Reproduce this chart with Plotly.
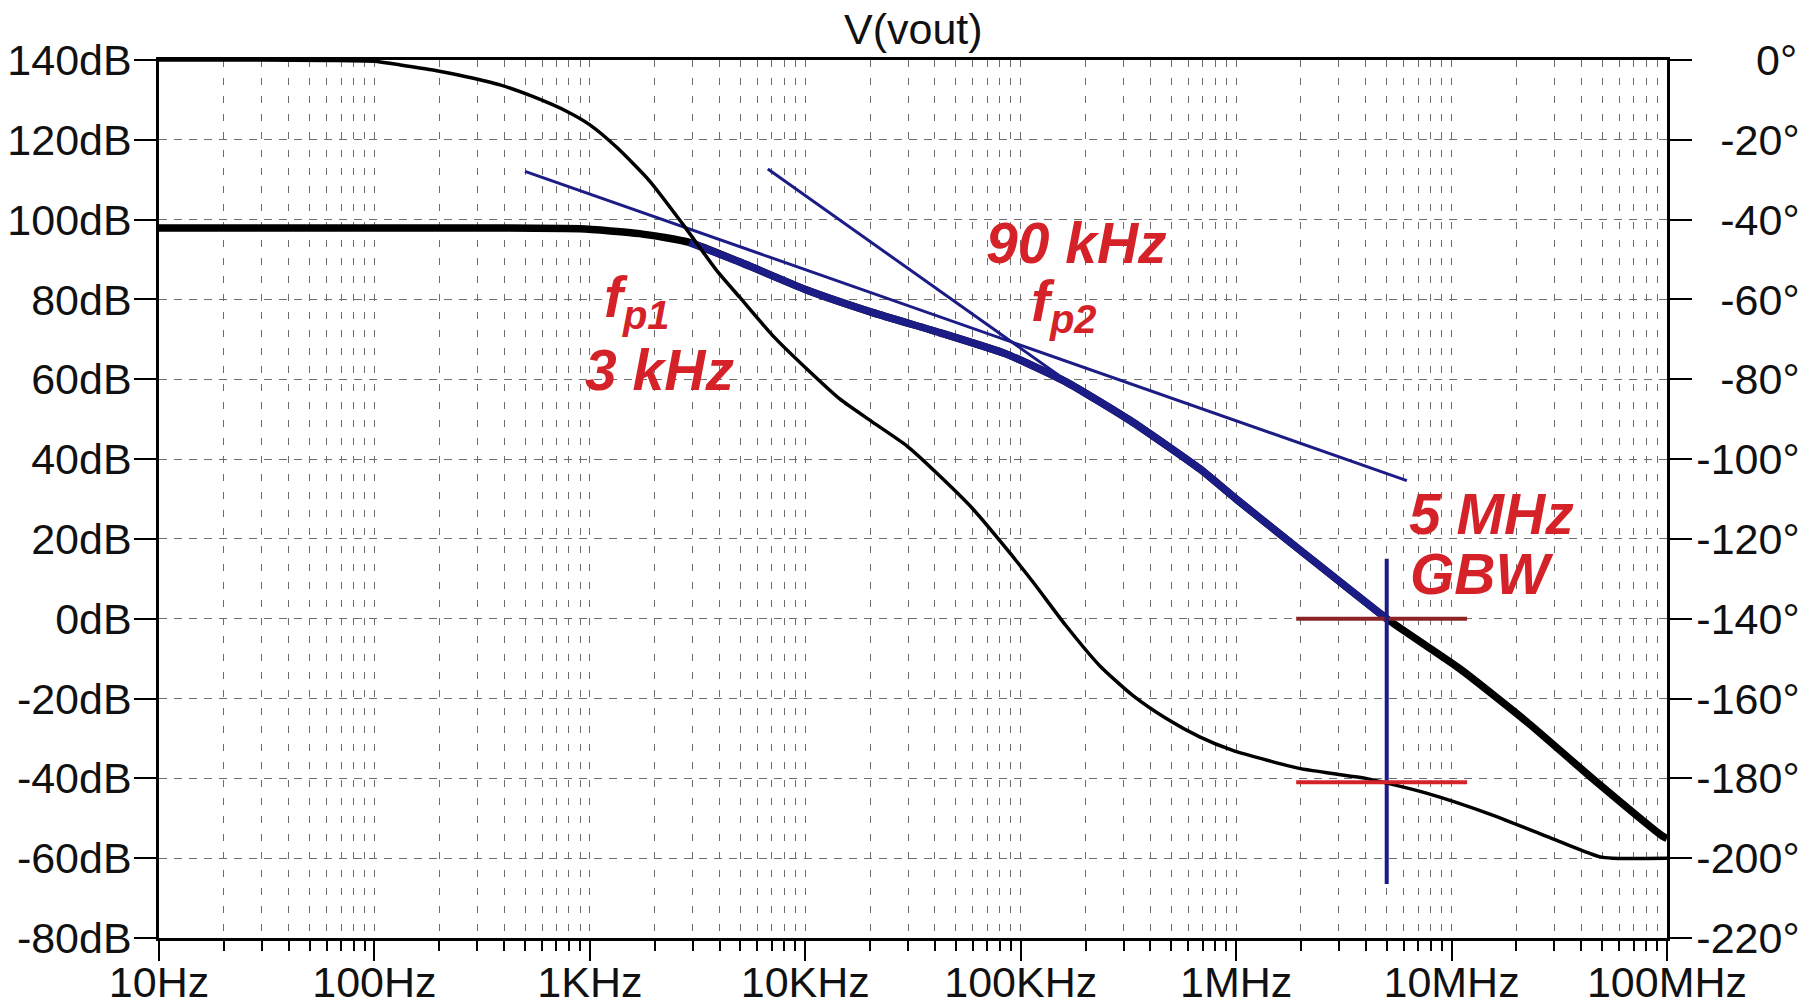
import numpy as np
import plotly.graph_objects as go

# ---------------- data ----------------
freq_mag = [10, 30, 100, 300, 900, 1700, 2900, 5000, 10000, 20600, 42000,
            86000, 163000, 330000, 680000, 1000000, 2000000, 5000000, 10900000,
            22200000, 45000000, 95500000, 100000000]
mag_db = [97.9, 97.9, 97.9, 97.9, 97.7, 96.5, 94.3, 89.3, 82.5, 76.7, 71.7,
          66.3, 59.3, 49.3, 37.5, 30.0, 17.0, 0.0, -12.5,
          -25.7, -40.0, -54.5, -55.0]

freq_phase = [10, 30, 60, 100, 132, 187, 267, 383, 546, 783, 1000, 1340, 1900,
              2710, 3900, 4970, 7100, 10200, 14500, 20600, 29600, 42000, 60000,
              86000, 114000, 162000, 232000, 331000, 474000, 677000, 964000,
              1380000, 1960000, 2800000, 4000000, 7640000, 15500000, 31600000,
              48500000, 56000000, 100000000]
phase_deg = [0, 0, -0.1, -0.3, -1.25, -2.5, -4.2, -6.25, -9.2, -12.9, -16.25, -22.0,
             -30.4, -41.25, -52.9, -59.5, -69.2, -77.5, -85.0, -90.8, -96.7, -104.2,
             -112.5, -122.5, -130.8, -141.7, -151.7, -159.2, -165.0, -169.6, -173.0,
             -175.4, -177.5, -178.8, -180.0, -183.7, -189.2, -195.8,
             -199.6, -200.0, -200.0]

# asymptote construction lines (-20 dB/dec and -40 dB/dec)
asym20_freq = [500, 6200000]
asym20_db = [112.1, 34.6]
asym40_freq = [6700, 150000]
asym40_db = [112.7, 61.0]

# highlighted part of the magnitude curve
overlay_span = [2700, 5000000]

# GBW cursor
gbw_freq = [5000000, 5000000]
cursor_db = [15.0, -66.5]
marker_freq = [1900000, 11800000]
gain_cross_db = [0, 0]
phase_at_gbw = [-181, -181]

# axis ticks
x_tick_vals = [1e1, 1e2, 1e3, 1e4, 1e5, 1e6, 1e7, 1e8]
x_tick_text = ["10Hz", "100Hz", "1KHz", "10KHz", "100KHz", "1MHz", "10MHz", "100MHz"]
y_tick_vals = list(range(-80, 141, 20))
y_tick_text = [f"{v}dB" for v in y_tick_vals]
y2_tick_vals = list(range(-220, 1, 20))
y2_tick_text = ["-220°", "-200°", "-180°", "-160°", "-140°", "-120°", "-100°",
                "-80°", "-60°", "-40°", "-20°", "0°"]

# text labels: (text, log10 frequency, dB)
labels = [
    ("<b><i>f<sub>p1</sub></i></b>", 3.219, 79.5),
    ("<b><i>3 kHz</i></b>", 3.321, 62.25),
    ("<b><i>90 kHz</i></b>", 5.26, 94.25),
    ("<b><i>f<sub>p2</sub></i></b>", 5.20, 78.5),
    ("<b><i>5 MHz</i></b>", 7.184, 26.25),
    ("<b><i>GBW</i></b>", 7.143, 11.25),
]

# ---------------- styling ----------------
FONT = "Liberation Sans, Arial, sans-serif"
NAVY = "#1c1c86"
RED = "#d42228"
DARKRED = "#8b2424"
GRID = "#6e6e6e"
TICK_SIZE = 43

# pad right-axis labels so they appear right-aligned
NB = "\u00a0"
def pad(t):
    digits = sum(c.isdigit() for c in t)
    minus = t.startswith("-")
    missing = (3 - digits) * 2 + (0 if minus else 1.2)
    return NB * int(round(missing)) + t
y2_tick_text_p = [pad(t) for t in y2_tick_text]

fig = go.Figure()

# phase (right axis)
fig.add_trace(go.Scatter(x=freq_phase, y=phase_deg, yaxis="y2", mode="lines",
                         line=dict(color="black", width=3.5, shape="spline", smoothing=0.6),
                         hoverinfo="skip", showlegend=False))
# magnitude
fig.add_trace(go.Scatter(x=freq_mag, y=mag_db, mode="lines",
                         line=dict(color="black", width=7.5, shape="spline", smoothing=0.5),
                         showlegend=False))
# thin asymptote lines
fig.add_trace(go.Scatter(x=asym20_freq, y=asym20_db, mode="lines",
                         line=dict(color=NAVY, width=3), showlegend=False))
fig.add_trace(go.Scatter(x=asym40_freq, y=asym40_db, mode="lines",
                         line=dict(color=NAVY, width=3), showlegend=False))
# highlighted magnitude section
fm = np.array(freq_mag, dtype=float)
md = np.array(mag_db, dtype=float)
sel = (fm >= overlay_span[0]) & (fm <= overlay_span[1])
fig.add_trace(go.Scatter(x=fm[sel], y=md[sel], mode="lines",
                         line=dict(color=NAVY, width=7.5, shape="spline", smoothing=0.5),
                         showlegend=False))
# GBW cursor markers
fig.add_trace(go.Scatter(x=marker_freq, y=gain_cross_db, mode="lines",
                         line=dict(color=DARKRED, width=4), showlegend=False))
fig.add_trace(go.Scatter(x=marker_freq, y=phase_at_gbw, yaxis="y2", mode="lines",
                         line=dict(color=RED, width=4), showlegend=False))
fig.add_trace(go.Scatter(x=gbw_freq, y=cursor_db, mode="lines",
                         line=dict(color=NAVY, width=4), showlegend=False))

annotations = []
for text, lx, ly in labels:
    annotations.append(dict(x=lx, y=ly, xref="x", yref="y", text=text,
                            showarrow=False, xanchor="center", yanchor="middle",
                            font=dict(family=FONT, size=57, color=RED)))
annotations.append(dict(x=0.5, y=1, xref="paper", yref="paper", text="V(vout)",
                        showarrow=False, xanchor="center", yanchor="middle",
                        yshift=31, font=dict(family=FONT, size=TICK_SIZE, color="#111")))

minor_vals = [d * m for d in [1e1, 1e2, 1e3, 1e4, 1e5, 1e6, 1e7] for m in range(2, 10)]

fig.update_layout(
    width=1816, height=1008, autosize=False,
    margin=dict(l=159, r=149, t=60, b=70),
    paper_bgcolor="white", plot_bgcolor="white",
    font=dict(family=FONT, size=TICK_SIZE, color="#111"),
    showlegend=False,
    annotations=annotations,
    xaxis=dict(type="log", range=[1, 8], tickmode="array", tickvals=x_tick_vals,
               ticktext=x_tick_text, showline=True, linecolor="black", linewidth=2.5,
               mirror=True, ticks="outside", ticklen=20, tickwidth=2, tickcolor="black",
               showgrid=True, gridcolor=GRID, gridwidth=1.3, griddash="7px,11px",
               zeroline=False, tickfont=dict(size=TICK_SIZE), ticklabelstandoff=-15,
               automargin=False,
               minor=dict(tickmode="array", tickvals=minor_vals, ticks="outside",
                          ticklen=10, tickwidth=2, tickcolor="black", showgrid=True,
                          gridcolor=GRID, gridwidth=1.3, griddash="7px,11px")),
    yaxis=dict(range=[-80, 140], tickmode="array", tickvals=y_tick_vals,
               ticktext=y_tick_text, showline=True, linecolor="black", linewidth=2.5,
               ticks="outside", ticklen=22, tickwidth=2, tickcolor="black",
               showgrid=True, gridcolor=GRID, gridwidth=1.3, griddash="8px,7px",
               zeroline=False, tickfont=dict(size=TICK_SIZE), ticklabelstandoff=-6,
               automargin=False),
    yaxis2=dict(range=[-220, 0], overlaying="y", side="right", tickmode="array",
                tickvals=y2_tick_vals, ticktext=y2_tick_text_p, showline=True,
                linecolor="black", linewidth=2.5, ticks="outside", ticklen=22,
                tickwidth=2, tickcolor="black", showgrid=False, zeroline=False,
                tickfont=dict(size=TICK_SIZE), ticklabelstandoff=-4, automargin=False),
)

fig.write_html("out.html")
